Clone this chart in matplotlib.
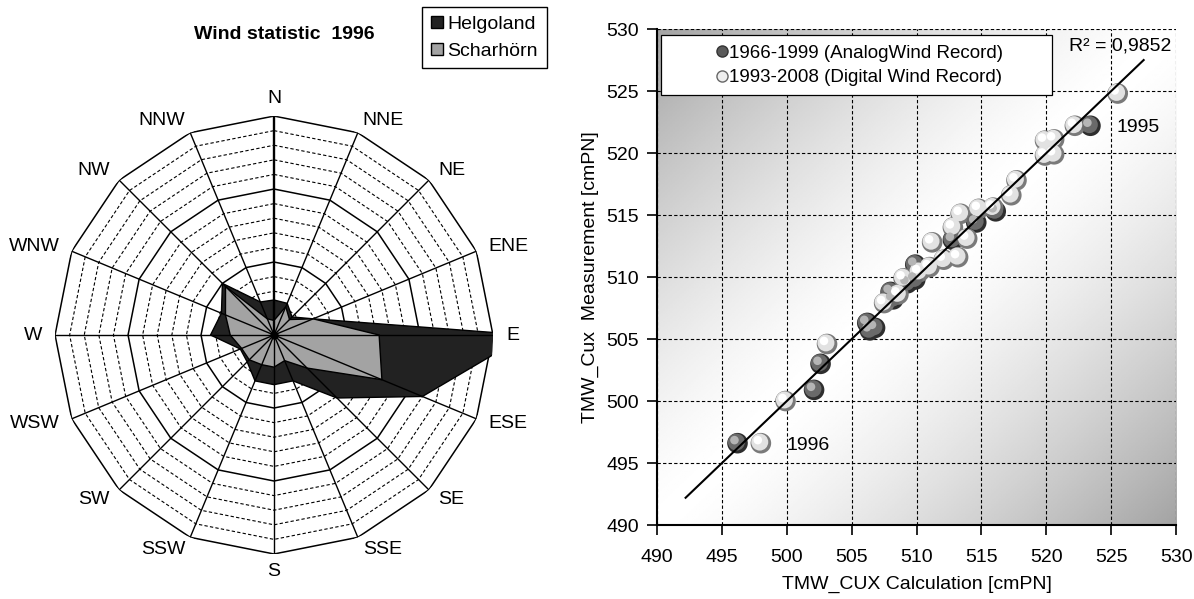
import numpy as np
import matplotlib
matplotlib.use("Agg")
import matplotlib.pyplot as plt
from matplotlib.patches import Patch, Rectangle
from matplotlib.lines import Line2D
from matplotlib.transforms import ScaledTranslation

plt.rcParams['font.family'] = ['Liberation Sans', 'DejaVu Sans']

# wind rose data (frequency per direction)
directions = ['N', 'NNE', 'NE', 'ENE', 'E', 'ESE', 'SE', 'SSE',
              'S', 'SSW', 'SW', 'WSW', 'W', 'WNW', 'NW', 'NNW']
helgoland = [2.4, 2.35, 1.75, 2.9, 17.3, 11.0, 6.1, 3.4,
             3.4, 3.4, 2.6, 2.5, 4.35, 3.9, 5.0, 2.45]
scharhorn = [1.0, 2.1, 1.5, 2.9, 7.2, 8.0, 3.2, 1.9,
             2.2, 2.2, 2.4, 2.4, 3.0, 3.6, 4.7, 1.2]
rose_max = 15

# scatter data: calculation vs measurement
analog_x = [496.2, 502.1, 502.6, 506.2, 506.8, 506.4, 508.2, 508.0, 509.3,
            509.9, 509.9, 512.8, 514.6, 516.1, 523.4]
analog_y = [496.6, 500.9, 503.0, 506.3, 505.9, 505.7, 508.2, 508.8, 509.5,
            511.0, 509.8, 513.0, 514.4, 515.3, 522.2]
digital_x = [498.0, 499.9, 503.1, 507.5, 508.6, 509.0, 510.2, 511.0, 511.2,
             512.1, 512.8, 513.2, 513.4, 513.9, 514.8, 515.9, 517.3, 517.7,
             519.9, 520.6, 519.9, 520.6, 522.2, 525.5]
digital_y = [496.6, 500.0, 504.6, 507.9, 508.6, 509.9, 510.4, 510.8, 512.8,
             511.4, 514.0, 511.6, 515.1, 513.1, 515.5, 515.6, 516.6, 517.8,
             521.0, 521.1, 519.8, 519.9, 522.2, 524.8]
trend_x = [492.2, 527.5]
trend_y = [492.2, 527.5]
ticks = [490, 495, 500, 505, 510, 515, 520, 525, 530]

fig = plt.figure(figsize=(11.94, 5.99), dpi=100)

# ---------------- wind rose ----------------
ax = fig.add_axes([0.0461, 0.0751, 0.3668, 0.7312], projection='polar')
ax.set_theta_zero_location('N')
ax.set_theta_direction(-1)
ax.set_ylim(0, rose_max)
ax.grid(False)
ax.set_xticks([])
ax.set_yticks([])
ax.spines['polar'].set_visible(False)

ang = np.arange(len(directions)) * 2 * np.pi / len(directions)
ring = np.append(ang, ang[0])
for lev in range(1, rose_max + 1):
    if lev % 5 == 0:
        ax.plot(ring, [lev] * len(ring), color='black', lw=1.1, zorder=1)
    else:
        ax.plot(ring, [lev] * len(ring), color='black', lw=0.8,
                ls=(0, (3, 2)), zorder=1)

h = np.append(helgoland, helgoland[0])
s = np.append(scharhorn, scharhorn[0])
ax.fill(ring, h, facecolor='#222222', edgecolor='black', lw=1, zorder=2)
ax.fill(ring, s, facecolor='#a3a3a3', edgecolor='black', lw=1, zorder=3)

for i, a in enumerate(ang):
    ax.plot([a, a], [0, rose_max], color='black',
            lw=1.7 if i == 0 else 1.0, zorder=4)
ax.plot([0], [0], 'o', color='black', ms=5, zorder=5)

for a, name in zip(ang, directions):
    sn = np.sin(a)
    if sn > 0.1:
        ha = 'left'
    elif sn < -0.1:
        ha = 'right'
    else:
        ha = 'center'
    r = 16.2 if ha == 'center' else 15.9
    ax.text(a, r, name, ha=ha, va='center', fontsize=14)

fig.text(0.238, 0.943, 'Wind statistic  1996', ha='center', va='center',
         fontsize=14, fontweight='bold')
leg_handles = [Patch(facecolor='#222222', edgecolor='black', label='Helgoland'),
               Patch(facecolor='#a3a3a3', edgecolor='black', label='Scharhörn')]
fig.legend(handles=leg_handles, loc='upper right', bbox_to_anchor=(0.458, 0.988),
           fontsize=14, frameon=True, fancybox=False, edgecolor='black',
           handlelength=0.6, handleheight=0.6, handletextpad=0.25,
           borderpad=0.45, labelspacing=0.5, framealpha=1, borderaxespad=0)

# ---------------- scatter ----------------
bx = fig.add_axes([0.5503, 0.1235, 0.4347, 0.8280])
gx, gy = np.meshgrid(np.linspace(0, 1, 300), np.linspace(1, 0, 300))
d = (gx + (1 - gy)) / 2
shade = 1 - 0.36 * np.abs(2 * d - 1) ** 1.4
bx.imshow(shade, cmap='gray', vmin=0, vmax=1, extent=[0, 1, 0, 1],
          transform=bx.transAxes, aspect='auto', zorder=0)

bx.set_xlim(490, 530)
bx.set_ylim(490, 530)
bx.set_xticks(ticks)
bx.set_yticks(ticks)
bx.grid(True, color='black', ls=(0, (3, 2)), lw=0.8)
bx.set_axisbelow(True)
for sp in ['top', 'right']:
    bx.spines[sp].set_visible(False)
for sp in ['left', 'bottom']:
    bx.spines[sp].set_linewidth(1.5)
bx.tick_params(axis='both', labelsize=14, length=7, width=1.2)
bx.tick_params(axis='x', pad=10)
bx.tick_params(axis='y', pad=6)
bx.set_xlabel('TMW_CUX Calculation [cmPN]', fontsize=14, labelpad=7)
bx.set_ylabel('TMW_Cux  Measurement [cmPN]', fontsize=14, labelpad=5)


def spheres(x, y, dark, mid, light):
    bx.scatter(x, y, s=220, c=dark, edgecolors='none', zorder=3)
    t1 = bx.transData + ScaledTranslation(-0.8 / 72, 0.8 / 72, fig.dpi_scale_trans)
    bx.scatter(x, y, s=150, c=mid, edgecolors='none', zorder=3.1, transform=t1)
    t2 = bx.transData + ScaledTranslation(-2.2 / 72, 2.2 / 72, fig.dpi_scale_trans)
    bx.scatter(x, y, s=38, c=light, edgecolors='none', zorder=3.2, transform=t2)


spheres(analog_x, analog_y, '#2e2e2e', '#6a6a6a', '#b5b5b5')
spheres(digital_x, digital_y, '#7a7a7a', '#e2e2e2', '#ffffff')
bx.plot(trend_x, trend_y, color='black', lw=1.5, zorder=3.5)

bx.text(525.4, 522.1, '1995', fontsize=14, va='center', zorder=4)
bx.text(500.0, 496.4, '1996', fontsize=14, va='center', zorder=4)
bx.text(529.6, 528.6, 'R² = 0,9852', fontsize=14, ha='right', va='center', zorder=4)

bx.add_patch(Rectangle((0.0077, 0.867), 0.753, 0.121, transform=bx.transAxes,
                       facecolor='white', edgecolor='black', lw=0.9, zorder=5))
lh = [Line2D([], [], ls='none', marker='o', ms=8, mfc='#5a5a5a', mec='#333333',
             label='1966-1999 (AnalogWind Record)'),
      Line2D([], [], ls='none', marker='o', ms=8, mfc='#eeeeee', mec='#666666',
             label='1993-2008 (Digital Wind Record)')]
lg = bx.legend(handles=lh, loc='center', bbox_to_anchor=(0.39, 0.927),
               frameon=False, fontsize=13.5, handlelength=0.6, handletextpad=0.1,
               labelspacing=0.4, borderpad=0.2)
lg.set_zorder(6)

fig.savefig('out.png', dpi=100)
